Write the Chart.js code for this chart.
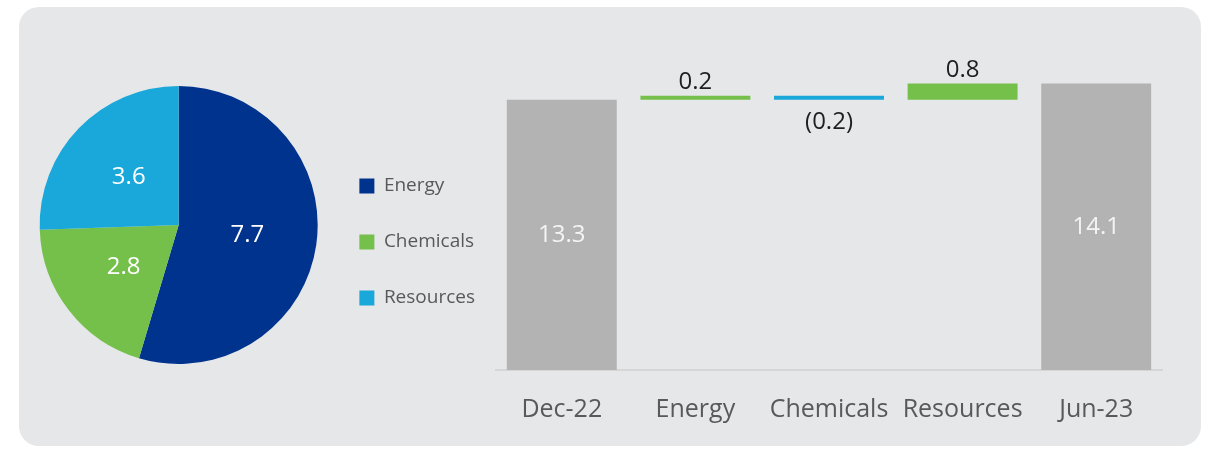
<!DOCTYPE html>
<html>
<head>
<meta charset="utf-8">
<script src="https://cdn.jsdelivr.net/npm/chart.js@4.4.1/dist/chart.umd.min.js"></script>
<style>
  html, body { margin: 0; padding: 0; background: #ffffff; }
  body { width: 1222px; height: 455px; position: relative; overflow: hidden; font-family: "Open Sans", sans-serif; }
  #panel { position: absolute; left: 19px; top: 7px; width: 1182px; height: 439px; background: #e6e7e9; border-radius: 20px; }
  #pieBox { position: absolute; left: 35px; top: 75px; width: 450px; height: 300px; }
  #barBox { position: absolute; left: 495px; top: 45px; width: 668px; height: 405px; }
</style>
</head>
<body>
<div id="panel"></div>
<div id="pieBox"><canvas id="pieChart"></canvas></div>
<div id="barBox"><canvas id="barChart"></canvas></div>
<script>
// pie: split by segment
const segments = ['Energy', 'Chemicals', 'Resources'];
const segmentValues = [7.7, 2.8, 3.6];
const segmentColors = ['#00338d', '#74c04a', '#19a8d9'];

// waterfall: Dec-22 -> Jun-23
const bridgeLabels = ['Dec-22', 'Energy', 'Chemicals', 'Resources', 'Jun-23'];
const openingValue = 13.3;
const changes = [0.2, -0.2, 0.8];
const closingValue = 14.1;

Chart.defaults.font.family = '"Open Sans", sans-serif';
Chart.defaults.animation = false;

// floating bars: [start, end]
const bars = [[0, openingValue]];
let running = openingValue;
changes.forEach(function(c) {
    bars.push([running, running + c]);
    running = running + c;
});
bars.push([0, closingValue]);
const barValues = [openingValue].concat(changes, [closingValue]);
const barColors = barValues.map(function(v, i) {
    if (i === 0 || i === barValues.length - 1) return '#b3b3b3';
    return v >= 0 ? '#74c04a' : '#19a8d9';
});

const pieLabels = {
    id: 'pieLabels',
    afterDatasetsDraw(chart) {
        const ctx = chart.ctx;
        const meta = chart.getDatasetMeta(0);
        ctx.save();
        ctx.font = '24px "Open Sans"';
        ctx.fillStyle = '#ffffff';
        ctx.textAlign = 'center';
        ctx.textBaseline = 'middle';
        meta.data.forEach(function(arc, i) {
            const p = arc.getCenterPoint();
            ctx.fillText(segmentValues[i].toFixed(1), p.x, p.y);
        });
        ctx.restore();
    }
};

const barLabels = {
    id: 'barLabels',
    afterDatasetsDraw(chart) {
        const ctx = chart.ctx;
        const meta = chart.getDatasetMeta(0);
        ctx.save();
        ctx.font = '24px "Open Sans"';
        ctx.textAlign = 'center';
        meta.data.forEach(function(bar, i) {
            const v = barValues[i];
            const top = Math.min(bar.y, bar.base);
            const bottom = Math.max(bar.y, bar.base);
            if (i === 0 || i === barValues.length - 1) {
                ctx.fillStyle = '#f4f4f4';
                ctx.textBaseline = 'middle';
                ctx.fillText(v.toFixed(1), bar.x, (top + bottom) / 2);
            } else if (v >= 0) {
                ctx.fillStyle = '#1f1f1f';
                ctx.textBaseline = 'alphabetic';
                ctx.fillText(v.toFixed(1), bar.x, top - 7);
            } else {
                ctx.fillStyle = '#1f1f1f';
                ctx.textBaseline = 'alphabetic';
                ctx.fillText('(' + Math.abs(v).toFixed(1) + ')', bar.x, bottom + 29);
            }
        });
        ctx.restore();
    }
};

new Chart(document.getElementById('pieChart').getContext('2d'), {
    type: 'pie',
    data: {
        labels: segments,
        datasets: [{
            data: segmentValues,
            backgroundColor: segmentColors,
            borderWidth: 0
        }]
    },
    options: {
        responsive: true,
        maintainAspectRatio: false,
        radius: 139,
        plugins: {
            legend: {
                position: 'right',
                title: { display: true, text: ' ', font: { size: 10 }, padding: { top: 11, bottom: 11 } },
                labels: {
                    boxWidth: 15,
                    boxHeight: 15,
                    padding: 37,
                    color: '#595959',
                    font: { size: 19 }
                }
            },
            tooltip: { enabled: false }
        }
    },
    plugins: [pieLabels]
});

new Chart(document.getElementById('barChart').getContext('2d'), {
    type: 'bar',
    data: {
        labels: bridgeLabels,
        datasets: [{
            data: bars,
            backgroundColor: barColors,
            borderWidth: 0,
            categoryPercentage: 1,
            barPercentage: 0.823
        }]
    },
    options: {
        responsive: true,
        maintainAspectRatio: false,
        layout: { padding: 0 },
        scales: {
            x: {
                grid: { display: false, drawTicks: false },
                border: { display: true, color: '#d6d6d6', width: 2 },
                ticks: { color: '#595959', font: { size: 25 }, padding: 25 }
            },
            y: {
                display: false,
                min: 0,
                max: 16
            }
        },
        plugins: {
            legend: { display: false },
            tooltip: { enabled: false }
        }
    },
    plugins: [barLabels]
});
</script>
</body>
</html>
